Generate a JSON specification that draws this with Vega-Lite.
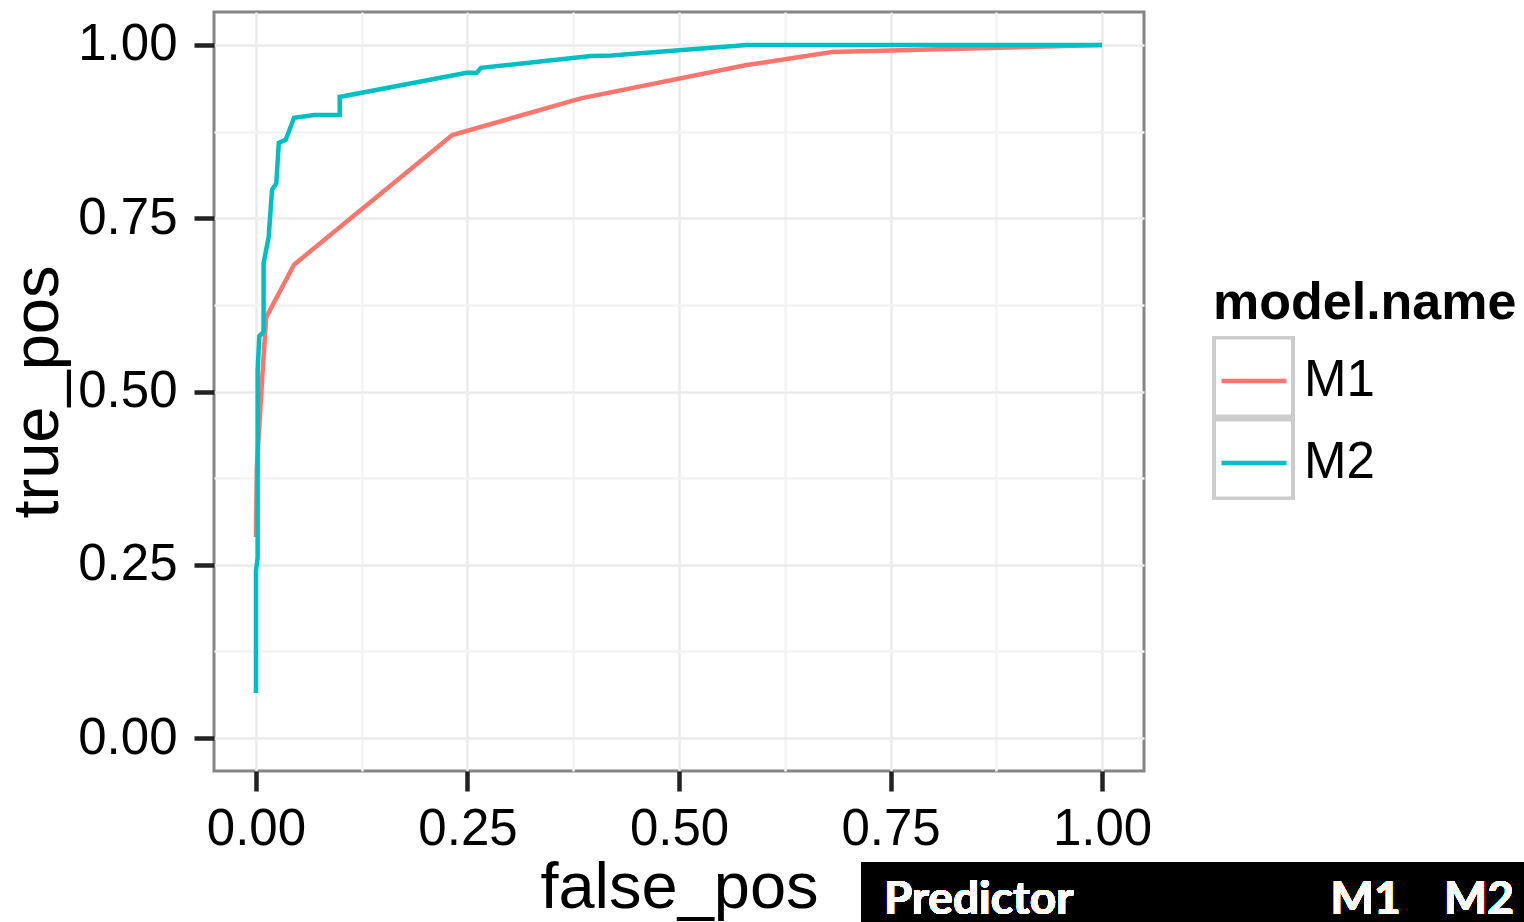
{
  "$schema": "https://vega.github.io/schema/vega-lite/v6.json",
  "autosize": {"type": "none"},
  "width": 930,
  "height": 759,
  "padding": {"left": 214, "top": 12, "right": 380, "bottom": 151},
  "background": "white",
  "config": {
    "font": "Liberation Sans",
    "view": {"stroke": "#858585", "strokeWidth": 3},
    "axis": {
      "domain": false,
      "labelFont": "Liberation Sans",
      "labelFontSize": 51,
      "labelColor": "#000000",
      "titleFont": "Liberation Sans",
      "titleFontSize": 65,
      "titleFontWeight": "normal",
      "titleColor": "#000000",
      "tickColor": "#222222",
      "tickWidth": 4.5,
      "tickSize": 20,
      "gridWidth": 2.5
    }
  },
  "data": {
    "values": [
      {"model": "M1", "fp": 0.0, "tp": 0.29},
      {"model": "M1", "fp": 0.001, "tp": 0.39},
      {"model": "M1", "fp": 0.007, "tp": 0.512},
      {"model": "M1", "fp": 0.012, "tp": 0.607},
      {"model": "M1", "fp": 0.045, "tp": 0.683},
      {"model": "M1", "fp": 0.232, "tp": 0.87},
      {"model": "M1", "fp": 0.384, "tp": 0.923},
      {"model": "M1", "fp": 0.58, "tp": 0.971},
      {"model": "M1", "fp": 0.681, "tp": 0.99},
      {"model": "M1", "fp": 1.0, "tp": 1.0},
      {"model": "M2", "fp": 0.0, "tp": 0.065},
      {"model": "M2", "fp": 0.0, "tp": 0.242},
      {"model": "M2", "fp": 0.002, "tp": 0.26},
      {"model": "M2", "fp": 0.002, "tp": 0.531},
      {"model": "M2", "fp": 0.004, "tp": 0.58},
      {"model": "M2", "fp": 0.009, "tp": 0.586},
      {"model": "M2", "fp": 0.009, "tp": 0.685},
      {"model": "M2", "fp": 0.015, "tp": 0.723},
      {"model": "M2", "fp": 0.019, "tp": 0.791},
      {"model": "M2", "fp": 0.024, "tp": 0.8},
      {"model": "M2", "fp": 0.027, "tp": 0.859},
      {"model": "M2", "fp": 0.035, "tp": 0.863},
      {"model": "M2", "fp": 0.045, "tp": 0.895},
      {"model": "M2", "fp": 0.069, "tp": 0.899},
      {"model": "M2", "fp": 0.099, "tp": 0.899},
      {"model": "M2", "fp": 0.099, "tp": 0.925},
      {"model": "M2", "fp": 0.249, "tp": 0.96},
      {"model": "M2", "fp": 0.261, "tp": 0.96},
      {"model": "M2", "fp": 0.266, "tp": 0.967},
      {"model": "M2", "fp": 0.396, "tp": 0.984},
      {"model": "M2", "fp": 0.42, "tp": 0.985},
      {"model": "M2", "fp": 0.58, "tp": 1.0},
      {"model": "M2", "fp": 1.0, "tp": 1.0}
    ]
  },
  "layer": [
    {
      "mark": {"type": "line", "strokeWidth": 4.5, "strokeCap": "butt"},
      "encoding": {
        "x": {
          "field": "fp", "type": "quantitative", "title": "false_pos",
          "scale": {"domain": [-0.0496, 1.0496], "nice": false, "zero": false},
          "axis": {
            "values": [0, 0.125, 0.25, 0.375, 0.5, 0.625, 0.75, 0.875, 1],
            "labelExpr": "(datum.value * 4) % 1 == 0 ? format(datum.value, '.2f') : ''",
            "tickOpacity": {"expr": "(datum.value * 4) % 1 == 0 ? 1 : 0"},
            "gridColor": {"expr": "(datum.value * 4) % 1 == 0 ? '#ebebeb' : '#f3f3f3'"},
            "labelPadding": 13,
            "labelFlush": false,
            "labelOverlap": false,
            "titlePadding": 2
          }
        },
        "y": {
          "field": "tp", "type": "quantitative", "title": "true_pos",
          "scale": {"domain": [-0.0476, 1.0476], "nice": false, "zero": false},
          "axis": {
            "values": [0, 0.125, 0.25, 0.375, 0.5, 0.625, 0.75, 0.875, 1],
            "labelExpr": "(datum.value * 4) % 1 == 0 ? format(datum.value, '.2f') : ''",
            "tickOpacity": {"expr": "(datum.value * 4) % 1 == 0 ? 1 : 0"},
            "gridColor": {"expr": "(datum.value * 4) % 1 == 0 ? '#ebebeb' : '#f3f3f3'"},
            "labelPadding": 17,
            "labelFlush": false,
            "labelOverlap": false,
            "titlePadding": 6
          }
        },
        "order": [{"field": "fp", "type": "quantitative"}, {"field": "tp", "type": "quantitative"}],
        "color": {
          "field": "model", "type": "nominal",
          "scale": {"range": ["#F8766D", "#00BFC4"]},
          "legend": {
            "title": "model.name",
            "orient": "none",
            "legendX": 999,
            "legendY": 266,
            "padding": 0,
            "titleFont": "Liberation Sans",
            "titleFontSize": 52,
            "titleFontWeight": "bold",
            "titleColor": "#000000",
            "titleLimit": 600,
            "titlePadding": 10,
            "symbolType": "stroke",
            "symbolSize": 4225,
            "symbolStrokeWidth": 4.5,
            "symbolOffset": 6,
            "labelFont": "Liberation Sans",
            "labelFontSize": 51,
            "labelColor": "#000000",
            "labelOffset": 15,
            "clipHeight": 82,
            "rowPadding": 0
          }
        },
        "opacity": {
          "field": "model", "type": "nominal",
          "scale": {"domain": ["M1", "M2"], "range": [1, 1]},
          "legend": {
            "title": null,
            "orient": "none",
            "legendX": 998,
            "legendY": 324,
            "padding": 0,
            "symbolType": "square",
            "symbolSize": 6241,
            "symbolStrokeWidth": 4,
            "symbolStrokeColor": "#cccccc",
            "symbolFillColor": "transparent",
            "labelExpr": "''",
            "labelFontSize": 1,
            "clipHeight": 82,
            "rowPadding": 0
          }
        }
      }
    },
    {
      "mark": {"type": "rect", "color": "#000000", "clip": false},
      "encoding": {
        "x": {"datum": 0.716, "type": "quantitative"},
        "x2": {"datum": 1.6},
        "y": {"datum": -0.179, "type": "quantitative"},
        "y2": {"datum": -0.4}
      }
    },
    {
      "mark": {"type": "text", "font": "Lato", "fontWeight": "bold", "fontSize": 46, "color": "#ffffff", "align": "left", "baseline": "alphabetic"},
      "encoding": {
        "x": {"datum": 0.742, "type": "quantitative"},
        "y": {"datum": -0.254, "type": "quantitative"},
        "text": {"value": "Predictor"}
      }
    },
    {
      "mark": {"type": "text", "font": "Lato", "fontWeight": "bold", "fontSize": 46, "color": "#ffffff", "align": "left", "baseline": "alphabetic"},
      "encoding": {
        "x": {"datum": 1.27, "type": "quantitative"},
        "y": {"datum": -0.254, "type": "quantitative"},
        "text": {"value": "M1"}
      }
    },
    {
      "mark": {"type": "text", "font": "Lato", "fontWeight": "bold", "fontSize": 46, "color": "#ffffff", "align": "left", "baseline": "alphabetic"},
      "encoding": {
        "x": {"datum": 1.404, "type": "quantitative"},
        "y": {"datum": -0.254, "type": "quantitative"},
        "text": {"value": "M2"}
      }
    }
  ]
}
